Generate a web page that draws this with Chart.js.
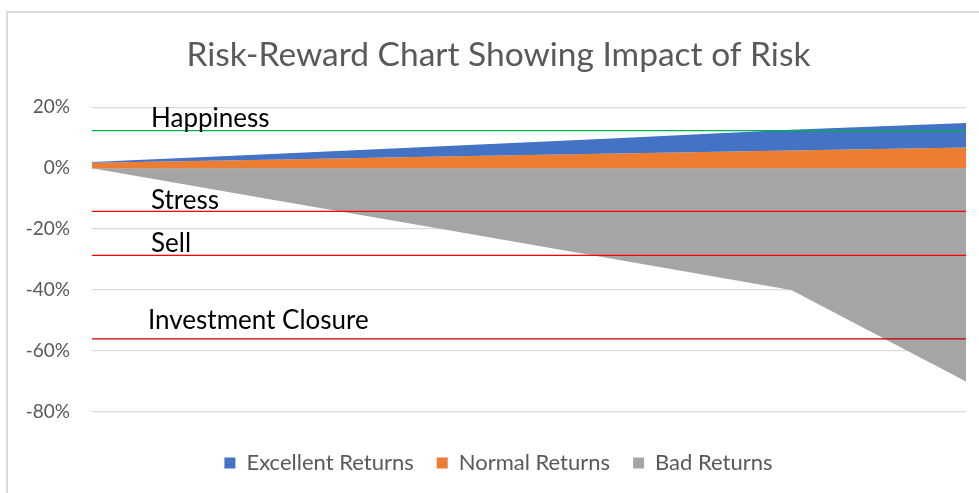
<!DOCTYPE html>
<html>
<head>
<meta charset="utf-8">
<script src="https://cdn.jsdelivr.net/npm/chart.js@4.4.1/dist/chart.umd.min.js"></script>
<style>
  body { margin: 0; background: #fff; overflow: hidden; }
  #wrap { position: relative; width: 979px; height: 493px; }
  #frame { position: absolute; left: 6px; top: 11px; width: 1000px; height: 520px; border: 2px solid #d9d9d9; }
  #riskChart { position: absolute; left: 0; top: 0; }
</style>
</head>
<body>
<div id="wrap">
  <div id="frame"></div>
  <canvas id="riskChart" width="979" height="493"></canvas>
</div>
<script>
// periods (no labels shown on the axis)
const periods = ['1', '2', '3', '4', '5', '6'];

// returns in %
const excellentReturns = [2, 4.6, 7.2, 9.8, 12.6, 14.8];
const normalReturns = [1.8, 2.8, 3.8, 4.8, 5.8, 6.8];
const badReturns = [0, -10, -20, -30, -40, -70];

// threshold lines
const thresholdNames = ['Happiness', 'Stress', 'Sell', 'Investment Closure'];
const thresholdLevels = [12.3, -14.2, -28.6, -56];
const thresholdColors = ['#00B050', '#FF0000', '#FF0000', '#C00000'];

// y ticks
const yTicks = [20, 0, -20, -40, -60, -80];

const FONT = 'Lato, Carlito, "Open Sans", sans-serif';

//Build the threshold line datasets
const thresholdSets = thresholdNames.map((name, i) => ({
	label: name,
	data: periods.map(() => thresholdLevels[i]),
	borderColor: thresholdColors[i],
	borderWidth: 1.3,
	pointRadius: 0,
	fill: false,
	order: 0
}));

// Write threshold names above their lines
const thresholdLabels = {
	id: 'thresholdLabels',
	afterDatasetsDraw(chart) {
		const ctx = chart.ctx;
		const y = chart.scales.y;
		const left = chart.chartArea.left;
		const lift = [12, 11, 12, 18];
		ctx.save();
		ctx.font = '26px ' + FONT;
		ctx.fillStyle = '#000';
		ctx.textBaseline = 'middle';
		thresholdNames.forEach((name, i) => {
			const yPix = y.getPixelForValue(thresholdLevels[i]);
			const last = i === thresholdNames.length - 1;
			ctx.fillText(name, left + (last ? 56 : 59), yPix - lift[i]);
		});
		ctx.restore();
	}
};

new Chart(document.getElementById('riskChart'), {
	type: 'line',
	data: {
		labels: periods,
		datasets: [
			{
				label: 'Excellent Returns',
				data: excellentReturns,
				backgroundColor: '#4472C4',
				borderColor: '#4472C4',
				borderWidth: 0,
				pointRadius: 0,
				fill: '+1',
				order: 1
			},
			{
				label: 'Normal Returns',
				data: normalReturns,
				backgroundColor: '#ED7D31',
				borderColor: '#ED7D31',
				borderWidth: 0,
				pointRadius: 0,
				fill: 'origin',
				order: 1
			},
			{
				label: 'Bad Returns',
				data: badReturns,
				backgroundColor: '#A5A5A5',
				borderColor: '#A5A5A5',
				borderWidth: 0,
				pointRadius: 0,
				fill: 'origin',
				order: 1
			},
			...thresholdSets
		]
	},
	options: {
		responsive: false,
		animation: false,
		layout: { padding: { left: 18, right: 0, top: 0, bottom: 9 } },
		plugins: {
			title: {
				display: true,
				text: 'Risk-Reward Chart Showing Impact of Risk',
				color: '#595959',
				font: { family: FONT, size: 33.5, weight: 'normal', lineHeight: 1.2 },
				padding: { top: 35, bottom: 32 }
			},
			legend: {
				position: 'bottom',
				labels: {
					filter: item => !thresholdNames.includes(item.text),
					color: '#595959',
					font: { family: FONT, size: 22 },
					boxWidth: 11,
					boxHeight: 11,
					padding: 23
				}
			},
			tooltip: { enabled: false }
		},
		scales: {
			x: {
				ticks: { display: false },
				grid: { display: false, drawTicks: false },
				border: { display: false },
				afterFit: s => { s.height = 17; }
			},
			y: {
				min: -80,
				max: 20,
				afterFit: s => { s.width = 74; },
				afterBuildTicks: s => { s.ticks = yTicks.map(v => ({ value: v })); },
				ticks: {
					color: '#595959',
					font: { family: FONT, size: 19 },
					padding: 22,
					callback: v => v + '%'
				},
				grid: { color: '#d9d9d9', lineWidth: 1.3, drawTicks: false },
				border: { display: false }
			},
			// empty right axis, only keeps a margin on the right of the plot
			yRight: {
				position: 'right',
				min: 0,
				max: 1,
				afterFit: s => { s.width = 13; },
				ticks: { display: false },
				grid: { display: false, drawTicks: false },
				border: { display: false }
			}
		}
	},
	plugins: [thresholdLabels]
});
</script>
</body>
</html>
